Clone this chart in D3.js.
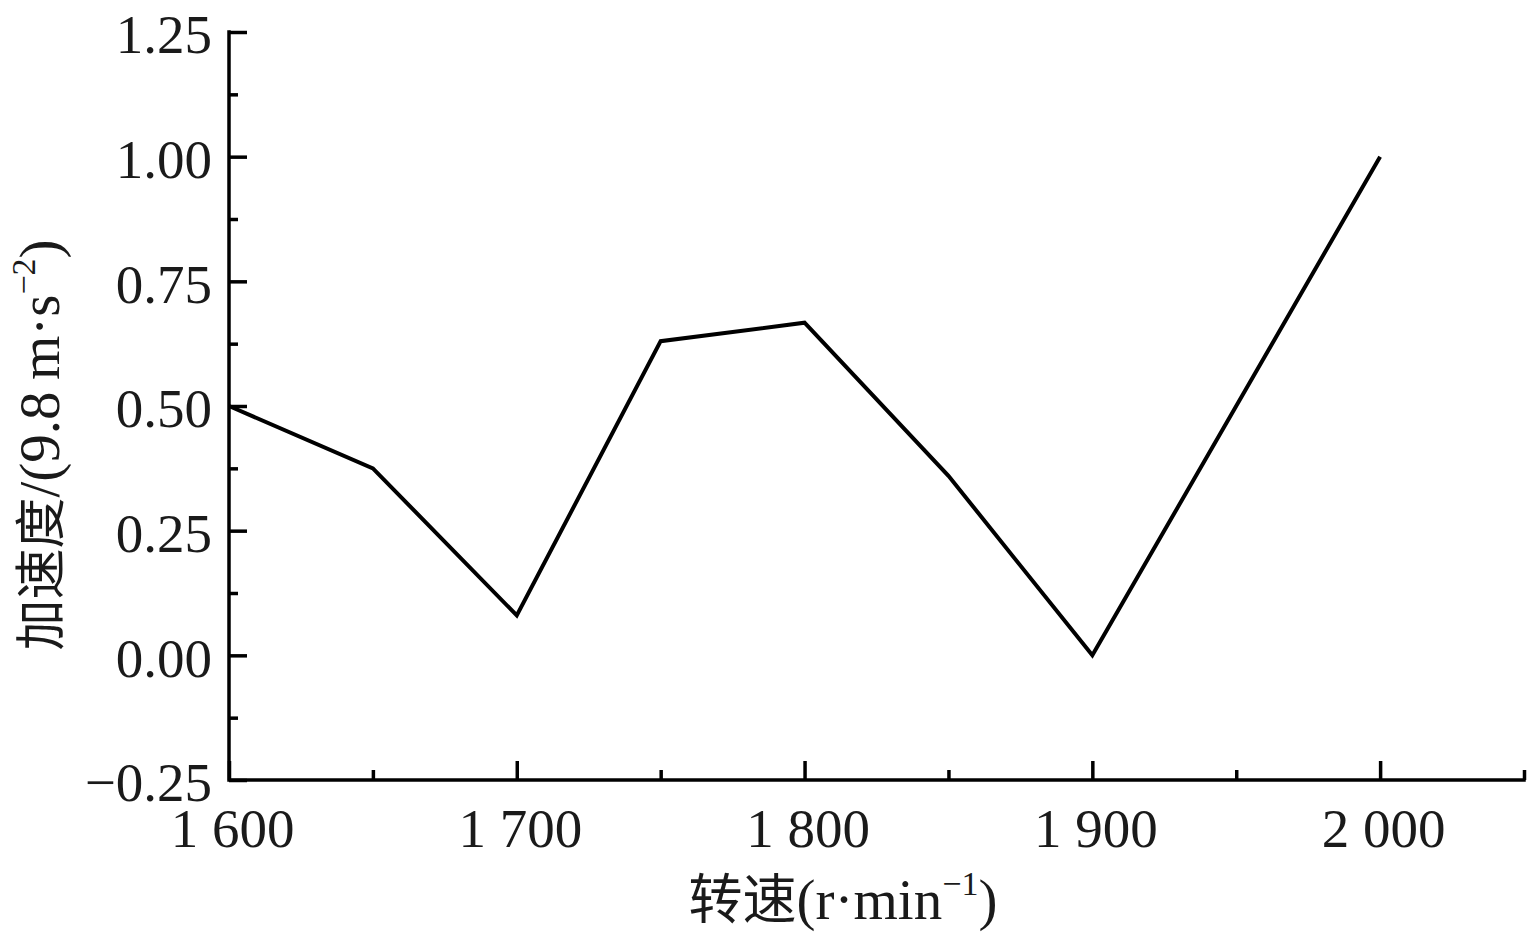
<!DOCTYPE html>
<html>
<head>
<meta charset="utf-8">
<script src="https://cdn.jsdelivr.net/npm/d3@7"></script>
<style>
  html, body { margin: 0; padding: 0; background: #fff; }
  svg { display: block; }
</style>
</head>
<body>
<svg id="chart" width="1536" height="946"></svg>
<script>
// ---- data ----
const speeds = [1600, 1650, 1700, 1750, 1800, 1850, 1900, 1950, 2000];
const accel  = [0.50, 0.375, 0.08, 0.63, 0.667, 0.36, 0.00, 0.50, 1.00];
const xMajorTicks = [1600, 1700, 1800, 1900, 2000];
const xMinorTicks = [1650, 1750, 1850, 1950, 2050];
const xTickLabels = ["1 600", "1 700", "1 800", "1 900", "2 000"];
const yMajorTicks = [-0.25, 0, 0.25, 0.5, 0.75, 1.0, 1.25];
const yMinorTicks = [-0.125, 0.125, 0.375, 0.625, 0.875, 1.125];
const yTickLabels = ["\u22120.25", "0.00", "0.25", "0.50", "0.75", "1.00", "1.25"];

const svg = d3.select("#chart");
const L = 229, R = 1524, T = 32, B = 780;
const serif = "'Liberation Serif','Times New Roman',serif";
const cjk = "'Noto Sans CJK SC','Noto Sans CJK JP',sans-serif";

const x = d3.scaleLinear().domain([1600, 2050]).range([L, R]);
const y = d3.scaleLinear().domain([-0.25, 1.25]).range([B, T]);

const axW = 3.5;

// x axis
const xAxis = svg.append("g").attr("transform", `translate(0,${B})`);
xAxis.call(d3.axisBottom(x).tickValues(xMajorTicks).tickSize(-19).tickPadding(0)
  .tickFormat((d, i) => xTickLabels[i]));
xAxis.select(".domain").remove();
xAxis.selectAll(".tick line").attr("stroke", "#000").attr("stroke-width", axW);
xAxis.selectAll(".tick text").attr("x", 3).attr("y", 67).attr("dy", null)
  .attr("font-family", serif).attr("font-size", 55).attr("fill", "#1a1a1a");
const xAxisMinor = svg.append("g").attr("transform", `translate(0,${B})`);
xAxisMinor.call(d3.axisBottom(x).tickValues(xMinorTicks).tickSize(-10).tickFormat(""));
xAxisMinor.select(".domain").remove();
xAxisMinor.selectAll(".tick line").attr("stroke", "#000").attr("stroke-width", axW);

// y axis
const yAxis = svg.append("g").attr("transform", `translate(${L},0)`);
yAxis.call(d3.axisLeft(y).tickValues(yMajorTicks).tickSize(-18).tickPadding(0)
  .tickFormat((d, i) => yTickLabels[i]));
yAxis.select(".domain").remove();
yAxis.selectAll(".tick line").attr("stroke", "#000").attr("stroke-width", axW);
yAxis.selectAll(".tick text").attr("x", -17).attr("dy", "0.38em")
  .attr("font-family", serif).attr("font-size", 55).attr("fill", "#1a1a1a");
const yAxisMinor = svg.append("g").attr("transform", `translate(${L},0)`);
yAxisMinor.call(d3.axisLeft(y).tickValues(yMinorTicks).tickSize(-9).tickFormat(""));
yAxisMinor.select(".domain").remove();
yAxisMinor.selectAll(".tick line").attr("stroke", "#000").attr("stroke-width", axW);

// axis lines
svg.append("line").attr("x1", L).attr("x2", L).attr("y1", T - axW/2).attr("y2", B + axW/2)
  .attr("stroke", "#000").attr("stroke-width", axW);
svg.append("line").attr("x1", L).attr("x2", R + axW/2).attr("y1", B).attr("y2", B)
  .attr("stroke", "#000").attr("stroke-width", axW);

// data line
const line = d3.line().x((d, i) => x(speeds[i])).y(d => y(d));
svg.append("path").datum(accel).attr("d", line)
  .attr("fill", "none").attr("stroke", "#000").attr("stroke-width", 4)
  .attr("stroke-linejoin", "miter");

// x title
const xt = svg.append("text").attr("x", 843).attr("y", 919).attr("text-anchor", "middle")
  .attr("font-size", 54).attr("fill", "#1a1a1a");
xt.append("tspan").attr("font-family", cjk).text("转速");
xt.append("tspan").attr("font-family", serif).attr("font-size", 57).text("(r\u00B7min");
xt.append("tspan").attr("font-family", serif).attr("font-size", 34).attr("dy", -24).text("\u22121");
xt.append("tspan").attr("font-family", serif).attr("font-size", 57).attr("dy", 24).text(")");

// y title
const yt = svg.append("text").attr("transform", "translate(59,445) rotate(-90)")
  .attr("text-anchor", "middle").attr("font-size", 51).attr("fill", "#1a1a1a");
yt.append("tspan").attr("font-family", cjk).text("加速度");
yt.append("tspan").attr("font-family", serif).attr("font-size", 57).text("/(9.8\u2009m\u00B7s");
yt.append("tspan").attr("font-family", serif).attr("font-size", 34).attr("dy", -24).text("\u22122");
yt.append("tspan").attr("font-family", serif).attr("font-size", 57).attr("dy", 24).text(")");
</script>
</body>
</html>
